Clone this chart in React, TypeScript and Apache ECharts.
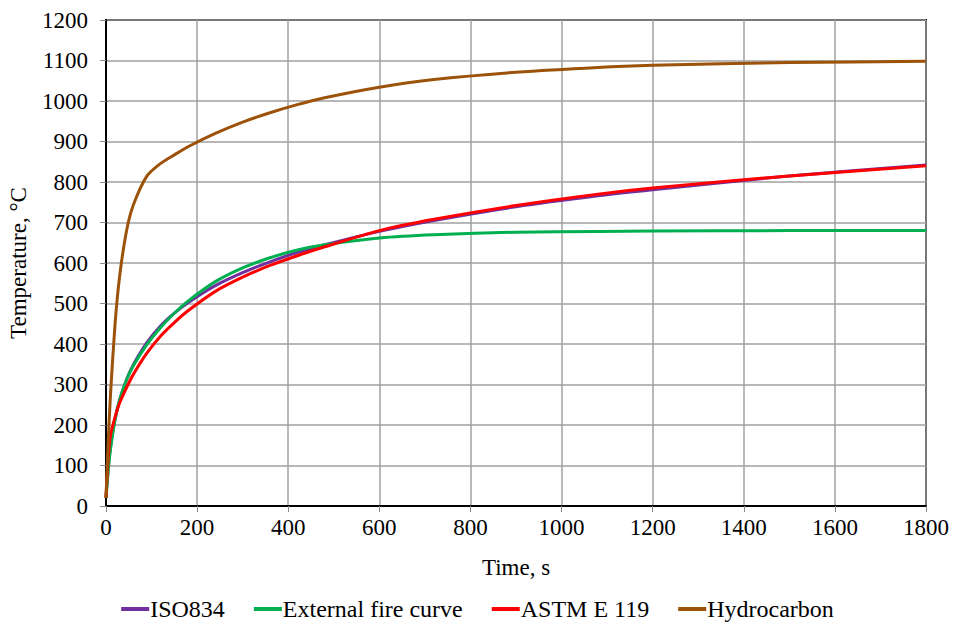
import React, { useEffect, useRef } from "react";
import * as echarts from "echarts";

const times = [0, 5, 10, 20, 30, 45, 60, 90, 120, 150, 180, 240, 300, 360, 420, 480, 600, 720, 900, 1080, 1200, 1500, 1800];
const iso834 = [20, 97, 147, 215, 261, 312, 349, 404, 445, 476, 502, 544, 576, 603, 626, 645, 678, 705, 739, 766, 781, 815, 842];
const externalFire = [20, 88, 141, 214, 263, 311, 346, 399, 441, 476, 506, 554, 588, 613, 632, 645, 662, 670, 676, 678, 679, 680, 680];
const astmE119 = [20, 120, 175, 220, 255, 292, 325, 378, 420, 453, 482, 530, 565, 594, 618, 640, 680, 708, 742, 770, 785, 815, 840];
const hydrocarbon = [20, 162, 278, 451, 568, 679, 743, 815, 846, 867, 887, 920, 948, 971, 991, 1008, 1034, 1053, 1071, 1083, 1088, 1095, 1098];

const seriesNames = ["ISO834", "External fire curve", "ASTM E 119", "Hydrocarbon"];
const seriesColors = ["#7030A0", "#00B050", "#FF0000", "#9C5209"];
const seriesData = [iso834, externalFire, astmE119, hydrocarbon];

const FONT = "Times New Roman";

export default function App() {
  const ref = useRef<HTMLDivElement>(null);
  useEffect(() => {
    if (!ref.current) return;
    const chart = echarts.init(ref.current, undefined, { renderer: "svg" });
    chart.setOption({
      animation: false,
      backgroundColor: "#fff",
      textStyle: { fontFamily: FONT, color: "#000" },
      grid: {
        left: 106,
        right: 29,
        top: 20,
        bottom: 122,
        outerBoundsMode: "none",
        containLabel: false,
        show: true,
        borderColor: "#000",
        borderWidth: 2,
        backgroundColor: "transparent",
      },
      legend: {
        data: seriesNames.map((n, i) => ({ name: n, icon: "rect", itemStyle: { color: seriesColors[i] } })),
        bottom: 2,
        left: "center",
        itemWidth: 28,
        itemHeight: 4,
        itemGap: 29,
        textStyle: { fontFamily: FONT, fontSize: 24, color: "#000", padding: [0, 0, 0, -4] },
      },
      xAxis: {
        type: "value",
        min: 0,
        max: 1800,
        interval: 200,
        name: "Time, s",
        nameLocation: "middle",
        nameGap: 50,
        nameTextStyle: { fontFamily: FONT, fontSize: 23, color: "#000" },
        axisLine: { show: true, lineStyle: { color: "#000", width: 2 } },
        axisTick: { show: true, length: 6, lineStyle: { color: "#888" } },
        axisLabel: { fontFamily: FONT, fontSize: 23, color: "#000", margin: 10, formatter: (v: number) => String(v) },
        splitLine: { show: true, lineStyle: { color: "#A0A0A0", width: 1.5 } },
      },
      yAxis: {
        type: "value",
        min: 0,
        max: 1200,
        interval: 100,
        name: "Temperature, °C",
        nameLocation: "middle",
        nameGap: 76,
        nameTextStyle: { fontFamily: FONT, fontSize: 23, color: "#000" },
        axisLine: { show: true, lineStyle: { color: "#000", width: 2 } },
        axisTick: { show: true, length: 6, lineStyle: { color: "#888" } },
        axisLabel: { fontFamily: FONT, fontSize: 23, color: "#000", margin: 18, formatter: (v: number) => String(v) },
        splitLine: { show: true, lineStyle: { color: "#A0A0A0", width: 1.5 } },
      },
      series: seriesNames.map((n, i) => ({
        name: n,
        type: "line",
        data: times.map((t, j) => [t, seriesData[i][j]]),
        showSymbol: false,
        symbol: "none",
        smooth: 0.25,
        lineStyle: { color: seriesColors[i], width: 3 },
        itemStyle: { color: seriesColors[i] },
      })),
    });
    return () => chart.dispose();
  }, []);
  return <div ref={ref} style={{ width: 955, height: 628, position: "absolute", left: 0, top: 0 }} />;
}
